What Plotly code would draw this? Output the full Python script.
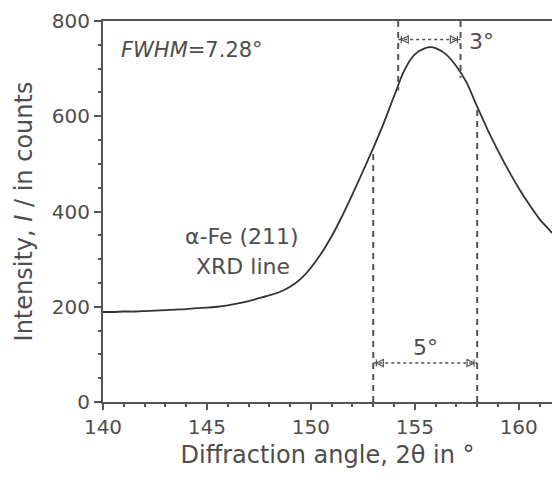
import numpy as np
import plotly.graph_objects as go

# ---- data ----
angle = [140, 140.5, 141, 141.5, 142, 142.5, 143, 143.5, 144, 144.5, 145, 145.5, 146, 146.5,
         147, 147.5, 148, 148.5, 149, 149.5, 150, 150.5, 151, 151.5, 152, 152.5, 153, 153.5,
         154, 154.5, 155, 155.5, 155.75, 156, 156.5, 157, 157.5, 158, 158.5, 159, 159.5,
         160, 160.5, 161, 161.5, 161.6]
intensity = [189, 189, 190, 190, 191, 192, 193, 194, 195, 197, 198, 200, 203, 207,
             212, 218, 224, 231, 242, 258, 282, 312, 348, 390, 436, 484, 533, 585,
             642, 697, 730, 743, 745, 743, 730, 705, 670, 620, 572, 528, 487,
             449, 415, 384, 360, 355]

wide_lines = [153.0, 158.0]      # 5 deg span (lower dashed lines)
narrow_lines = [154.2, 157.2]    # 3 deg span (upper dashed lines)
wide_arrow_y = 82
narrow_arrow_y = 761
y_top = 800

x_ticks = [140, 145, 150, 155, 160]
y_ticks = [0, 200, 400, 600, 800]

FONT = "DejaVu Sans"
TXT = "#4d4d4d"
AX = "#555555"

fig = go.Figure()

# main curve
fig.add_trace(go.Scatter(x=angle, y=intensity, mode="lines",
                         line=dict(color="#333333", width=1.8, shape="spline", smoothing=0.8),
                         hoverinfo="skip"))

# lower dashed lines: from 0 up to the curve
for xv in wide_lines:
    yc = float(np.interp(xv, angle, intensity))
    fig.add_trace(go.Scatter(x=[xv, xv], y=[0, yc], mode="lines",
                             line=dict(color=AX, width=2, dash="6px,5px"), hoverinfo="skip"))
# upper dashed lines: from top down to the curve
for xv in narrow_lines:
    yc = float(np.interp(xv, angle, intensity))
    fig.add_trace(go.Scatter(x=[xv, xv], y=[y_top, yc - 10], mode="lines",
                             line=dict(color=AX, width=2, dash="6px,5px"), hoverinfo="skip"))

# dotted dimension arrows
for (x0, x1), yv in [(wide_lines, wide_arrow_y), (narrow_lines, narrow_arrow_y)]:
    fig.add_trace(go.Scatter(x=[x0, x1], y=[yv, yv], mode="lines",
                             line=dict(color=AX, width=1.5, dash="dot"), hoverinfo="skip"))
    fig.add_trace(go.Scatter(x=[x0 + 0.15, x1 - 0.15], y=[yv, yv], mode="markers",
                             marker=dict(symbol=["arrow-bar-left-open", "arrow-bar-right-open"],
                                         size=7, color=AX, line=dict(color=AX, width=1.2)),
                             hoverinfo="skip"))

annos = [
    dict(x=140.75, y=740, text="<i>FWHM</i>=7.28°", xanchor="left", yanchor="middle", size=21),
    dict(x=146.68, y=348, text="α-Fe (211)", xanchor="center", yanchor="middle", size=22),
    dict(x=146.73, y=285, text="XRD line", xanchor="center", yanchor="middle", size=22),
    dict(x=158.2, y=757, text="3°", xanchor="center", yanchor="middle", size=22),
    dict(x=155.5, y=115, text="5°", xanchor="center", yanchor="middle", size=22),
]
for a in annos:
    fig.add_annotation(x=a["x"], y=a["y"], xref="x", yref="y", text=a["text"], showarrow=False,
                       xanchor=a["xanchor"], yanchor=a["yanchor"],
                       font=dict(family=FONT, size=a["size"], color=TXT))

fig.update_layout(
    width=552, height=477,
    margin=dict(l=103, r=0, t=21, b=75),
    paper_bgcolor="white", plot_bgcolor="white",
    showlegend=False,
    font=dict(family=FONT, color=TXT),
)
fig.update_xaxes(
    range=[140, 161.6], tickvals=x_ticks, ticktext=[str(v) for v in x_ticks],
    showgrid=False, zeroline=False, showline=True, linecolor=AX, linewidth=2, mirror=True,
    ticks="outside", ticklen=6, tickwidth=1.5, tickcolor=AX,
    minor=dict(dtick=1, ticks="outside", ticklen=3, tickwidth=1.5, tickcolor=AX),
    tickfont=dict(family=FONT, size=20, color=TXT),
    title=dict(text="Diffraction angle, 2θ in °", font=dict(family=FONT, size=24, color=TXT), standoff=8),
)
fig.update_yaxes(
    range=[0, 800], tickvals=y_ticks, ticktext=[str(v) for v in y_ticks],
    showgrid=False, zeroline=False, showline=True, linecolor=AX, linewidth=2, mirror=False,
    ticks="outside", ticklen=7, tickwidth=1.5, tickcolor=AX,
    minor=dict(dtick=50, ticks="outside", ticklen=3, tickwidth=1.5, tickcolor=AX),
    tickfont=dict(family=FONT, size=20, color=TXT),
    title=dict(text="Intensity, <i>I</i> / in counts", font=dict(family=FONT, size=24, color=TXT), standoff=12),
)

fig.write_html("out.html")
